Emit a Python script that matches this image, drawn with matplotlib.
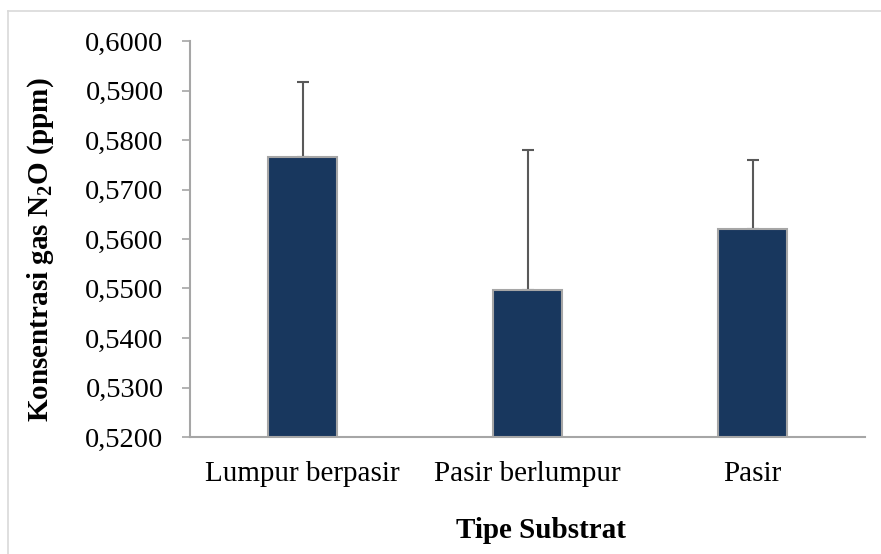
#!/usr/bin/env python3

import matplotlib.pyplot as plt
from matplotlib.lines import Line2D
from matplotlib.ticker import FuncFormatter
import numpy as np

categories = ["Lumpur berpasir", "Pasir berlumpur", "Pasir"]
values = [0.5766, 0.5497, 0.5620]
errors = [0.0152, 0.0283, 0.0139]
yticks = [0.52, 0.53, 0.54, 0.55, 0.56, 0.57, 0.58, 0.59, 0.60]

plt.rcParams['font.family'] = ['Liberation Serif', 'DejaVu Serif']
plt.rcParams['mathtext.fontset'] = 'custom'
plt.rcParams['mathtext.rm'] = 'Liberation Serif'
plt.rcParams['mathtext.bf'] = 'Liberation Serif:bold'

W, H = 881, 554
fig = plt.figure(figsize=(W / 100, H / 100), dpi=100)
ax = fig.add_axes([190 / W, 1 - 437 / H, 675 / W, 396 / H])

x = np.arange(len(categories))
ax.bar(x, values, width=0.31, color='#18375E', edgecolor='#A6A6A6', linewidth=1.5,
       zorder=2)
ax.errorbar(x, values, yerr=[np.zeros(len(errors)), errors], fmt='none',
            ecolor='#595959', elinewidth=1.5, capsize=4.5, capthick=1.5, zorder=1)

ax.set_xlim(-0.5, 2.5)
ax.set_ylim(0.52, 0.60)
ax.set_yticks(yticks)
ax.yaxis.set_major_formatter(FuncFormatter(lambda v, p: f"{v:.4f}".replace('.', ',')))
ax.set_xticks(x)
ax.set_xticklabels(categories)
ax.tick_params(axis='y', labelsize=20.5, length=6, width=1.2, color='#A6A6A6', pad=13)
ax.tick_params(axis='x', labelsize=21, length=0, pad=17)

for s in ['top', 'right']:
    ax.spines[s].set_visible(False)
for s in ['left', 'bottom']:
    ax.spines[s].set_color('#A6A6A6')
    ax.spines[s].set_linewidth(1.5)

fig.text(41 / W, 1 - 250 / H, r'Konsentrasi gas N$_\mathbf{2}$O (ppm)', rotation=90,
         fontsize=21, fontweight='bold', ha='center', va='center')
fig.text(541 / W, 1 - 530 / H, 'Tipe Substrat', fontsize=21, fontweight='bold',
         ha='center', va='center')

# light frame around the chart area
fig.add_artist(Line2D([8 / W, 8 / W], [0, 1 - 11 / H], color='#D9D9D9', lw=1.2))
fig.add_artist(Line2D([8 / W, 1], [1 - 11 / H, 1 - 11 / H], color='#D9D9D9', lw=1.2))

plt.savefig("out.png", dpi=100)
